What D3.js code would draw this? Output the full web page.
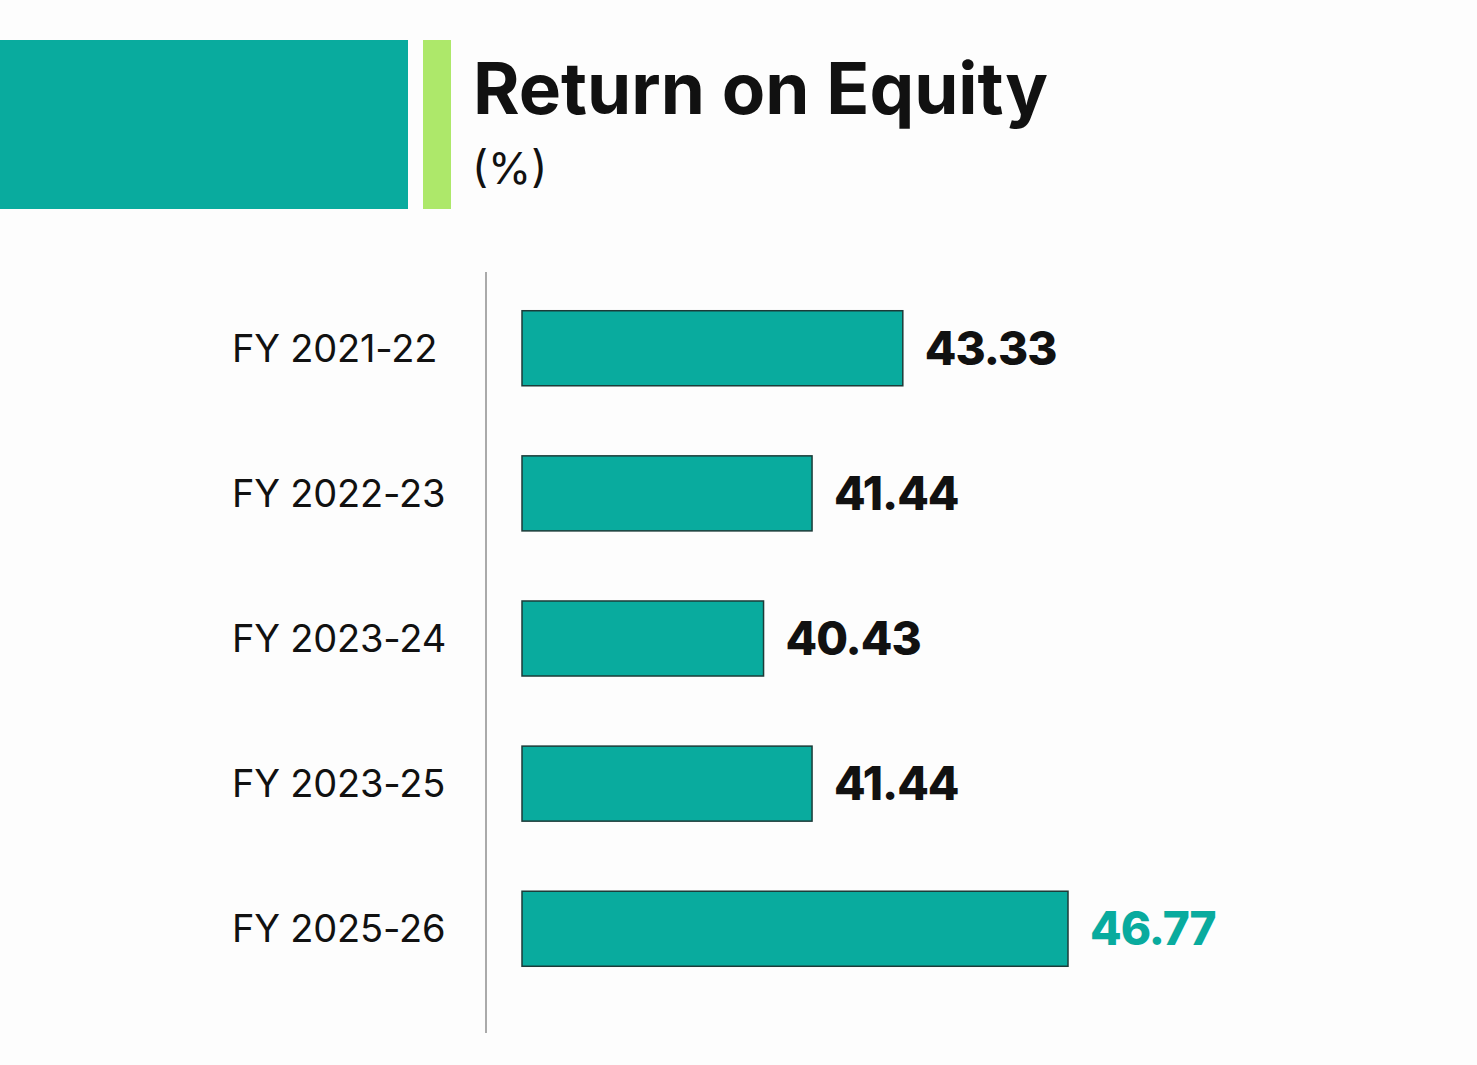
<!DOCTYPE html>
<html lang="en">
<head>
<meta charset="UTF-8">
<title>Return on Equity</title>
<script src="https://d3js.org/d3.v7.min.js"></script>
<style>
  body { margin: 0; background: #fdfdfd; }
  text { font-family: "Inter", "Open Sans", sans-serif; }
</style>
</head>
<body>
<script>
// chart data
const years = ["FY 2021-22", "FY 2022-23", "FY 2023-24", "FY 2023-25", "FY 2025-26"];
const roe = [43.33, 41.44, 40.43, 41.44, 46.77];
const titleText = "Return on Equity";
const unitText = "(%)";

const W = 1477, H = 1065;
const teal = "#09ab9e", lime = "#ade86a";

const svg = d3.select("body").append("svg")
  .attr("width", W).attr("height", H);

// header blocks
svg.append("rect").attr("x", 0).attr("y", 40).attr("width", 408).attr("height", 169).attr("fill", teal);
svg.append("rect").attr("x", 423).attr("y", 40).attr("width", 28).attr("height", 169).attr("fill", lime);

svg.append("text").attr("x", 473).attr("y", 114)
  .attr("font-size", 71).attr("font-weight", 700).attr("fill", "#111")
  .attr("letter-spacing", 0)
  .text(titleText);
svg.append("text").attr("x", 472).attr("y", 184)
  .attr("font-size", 44).attr("font-weight", 400).attr("fill", "#111")
  .text(unitText);

const data = years.map((y, i) => ({ year: y, value: roe[i] }));

const y = d3.scaleBand()
  .domain(years)
  .range([273, 1004])
  .paddingInner(0.483)
  .paddingOuter(0.26);

// bars start at x=522, value scale fitted to the picture
const x = d3.scaleLinear()
  .domain([35.4, d3.max(roe)])
  .range([522, 1068]);

// axis line
svg.append("line")
  .attr("x1", 486).attr("x2", 486)
  .attr("y1", 272).attr("y2", 1033)
  .attr("stroke", "#aaa").attr("stroke-width", 2);

svg.selectAll(".bar").data(data).enter()
  .append("rect")
  .attr("class", "bar")
  .attr("x", x(35.4))
  .attr("y", d => y(d.year))
  .attr("width", d => x(d.value) - x(35.4))
  .attr("height", y.bandwidth())
  .attr("fill", teal)
  .attr("stroke", "#1c3b38")
  .attr("stroke-width", 1.5);

svg.selectAll(".lbl").data(data).enter()
  .append("text")
  .attr("class", "lbl")
  .attr("x", 232)
  .attr("y", d => y(d.year) + y.bandwidth() / 2)
  .attr("dy", "0.36em")
  .attr("font-size", 38)
  .attr("fill", "#111")
  .attr("letter-spacing", -0.2)
  .text(d => d.year);

const last = years[years.length - 1];
svg.selectAll(".val").data(data).enter()
  .append("text")
  .attr("class", "val")
  .attr("x", d => x(d.value) + 22)
  .attr("y", d => y(d.year) + y.bandwidth() / 2)
  .attr("dy", "0.36em")
  .attr("font-size", 46)
  .attr("font-weight", 800)
  .attr("letter-spacing", -1)
  .attr("fill", d => d.year === last ? teal : "#111")
  .text(d => d.value.toFixed(2));
</script>
</body>
</html>
